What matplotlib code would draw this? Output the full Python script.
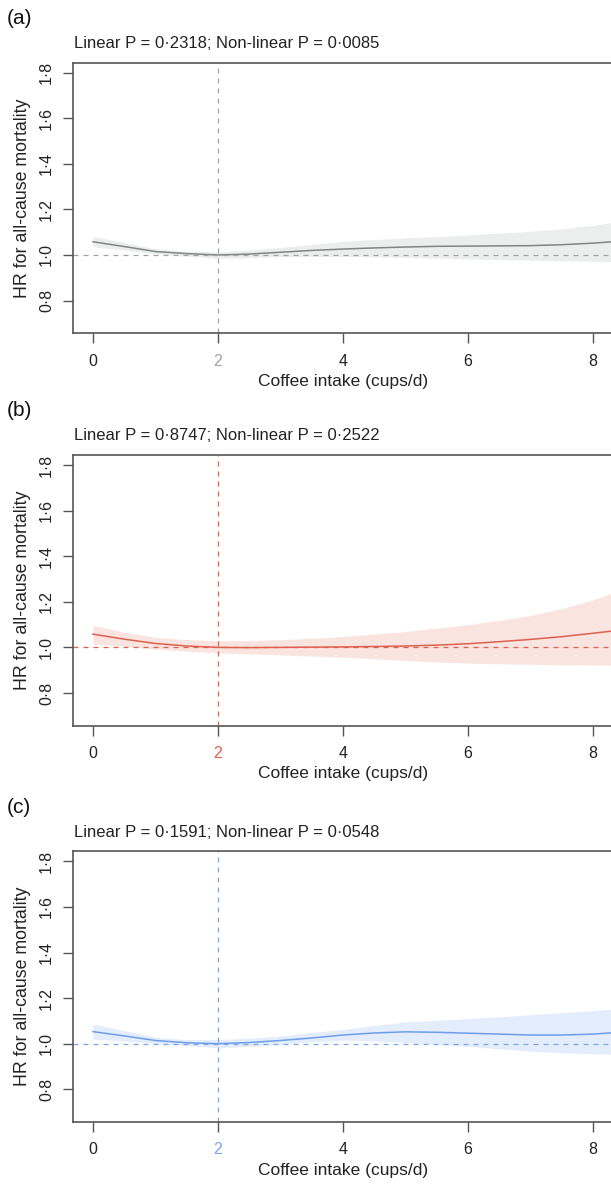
import matplotlib
matplotlib.use("Agg")
from matplotlib import pyplot as plt

plt.rcParams["font.family"] = ["Liberation Sans", "DejaVu Sans"]

# Coffee intake grid (cups/d)
coffee = [0, 0.5, 1, 1.5, 2, 2.5, 3, 3.5, 4, 4.5, 5, 5.5, 6, 6.5, 7, 7.5, 8, 8.32]

# (a) overall
hr_a = [1.058, 1.037, 1.015, 1.006, 1.000, 1.004, 1.012, 1.020, 1.026, 1.031,
        1.035, 1.038, 1.039, 1.040, 1.041, 1.045, 1.052, 1.058]
lo_a = [1.036, 1.022, 1.005, 0.995, 0.985, 0.988, 0.993, 0.994, 0.994, 0.992,
        0.989, 0.986, 0.983, 0.980, 0.977, 0.975, 0.973, 0.971]
hi_a = [1.082, 1.055, 1.027, 1.017, 1.013, 1.022, 1.033, 1.046, 1.060, 1.068,
        1.075, 1.081, 1.088, 1.096, 1.104, 1.115, 1.130, 1.143]

# (b)
hr_b = [1.058, 1.036, 1.017, 1.006, 1.000, 0.999, 1.000, 1.001, 1.002, 1.004,
        1.006, 1.010, 1.016, 1.025, 1.035, 1.047, 1.062, 1.072]
lo_b = [1.014, 1.005, 0.993, 0.983, 0.976, 0.972, 0.967, 0.962, 0.957, 0.950,
        0.943, 0.936, 0.931, 0.928, 0.926, 0.924, 0.923, 0.922]
hi_b = [1.097, 1.066, 1.044, 1.034, 1.029, 1.030, 1.034, 1.040, 1.048, 1.058,
        1.070, 1.084, 1.100, 1.118, 1.140, 1.170, 1.208, 1.240]

# (c)
hr_c = [1.053, 1.034, 1.014, 1.004, 1.000, 1.005, 1.014, 1.025, 1.038, 1.047,
        1.052, 1.050, 1.046, 1.042, 1.038, 1.038, 1.042, 1.048]
lo_c = [1.020, 1.012, 1.001, 0.992, 0.982, 0.988, 0.998, 1.008, 1.016, 1.012,
        1.005, 0.997, 0.988, 0.978, 0.967, 0.960, 0.956, 0.954]
hi_c = [1.086, 1.058, 1.028, 1.018, 1.018, 1.024, 1.033, 1.050, 1.062, 1.080,
        1.095, 1.103, 1.110, 1.118, 1.127, 1.136, 1.145, 1.152]

panel_tags = ["(a)", "(b)", "(c)"]
p_texts = [
    "Linear P = 0·2318; Non-linear P = 0·0085",
    "Linear P = 0·8747; Non-linear P = 0·2522",
    "Linear P = 0·1591; Non-linear P = 0·0548",
]
hrs = [hr_a, hr_b, hr_c]
los = [lo_a, lo_b, lo_c]
his = [hi_a, hi_b, hi_c]

line_colors = ["#7f8782", "#df604e", "#6e9deb"]
band_colors = ["#eceeed", "#f9e4e0", "#e4edfb"]
ref_colors = ["#a3a3a3", "#e0604c", "#78a4f0"]

x_ticks = [0, 2, 4, 6, 8]
y_ticks = [0.8, 1.0, 1.2, 1.4, 1.6, 1.8]
y_ticklabels = ["0·8", "1·0", "1·2", "1·4", "1·6", "1·8"]
ref_x = 2

W, H = 611, 1189
fig = plt.figure(figsize=(W / 100, H / 100), dpi=100)

left_px, right_px = 73, 613
tops_px = [62.6, 455.0, 851.3]
height_px = 270.8
spine_col = "#555555"

for i in range(3):
    top = tops_px[i]
    ax = fig.add_axes([left_px / W, 1 - (top + height_px) / H,
                       (right_px - left_px) / W, height_px / H])
    ax.fill_between(coffee, los[i], his[i], color=band_colors[i], lw=0)
    ax.plot(coffee, hrs[i], color=line_colors[i], lw=1.1)
    ax.axhline(1.0, color=ref_colors[i], lw=0.9, ls=(0, (4, 4)))
    ax.axvline(ref_x, color=ref_colors[i], lw=0.9, ls=(0, (4, 4)))

    ax.set_xlim(-0.32, 8.32)
    ax.set_ylim(0.656, 1.844)
    ax.set_xticks(x_ticks)
    ax.set_xticklabels([str(t) for t in x_ticks])
    ax.set_yticks(y_ticks)
    ax.set_yticklabels(y_ticklabels, rotation=90, va="center")
    ax.tick_params(axis="both", direction="out", length=7.5, width=1.0,
                   color=spine_col, labelsize=11.5, labelcolor="#222222")
    ax.tick_params(axis="x", pad=7)
    ax.tick_params(axis="y", pad=6)
    ax.get_xticklabels()[1].set_color(ref_colors[i])

    for side in ["left", "bottom", "top"]:
        ax.spines[side].set_color(spine_col)
        ax.spines[side].set_linewidth(1.2)
    ax.spines["right"].set_visible(False)

    ax.set_xlabel("Coffee intake (cups/d)", fontsize=12.5, color="#222222",
                  labelpad=4)
    ax.set_ylabel("HR for all-cause mortality", fontsize=12.8, color="#222222",
                  labelpad=6)

    fig.text(7 / W, 1 - (top - 44) / H, panel_tags[i], fontsize=15,
             va="center", ha="left", color="#111111")
    fig.text(74 / W, 1 - (top - 19) / H, p_texts[i], fontsize=12,
             va="center", ha="left", color="#222222")

fig.savefig("out.png", dpi=100)
